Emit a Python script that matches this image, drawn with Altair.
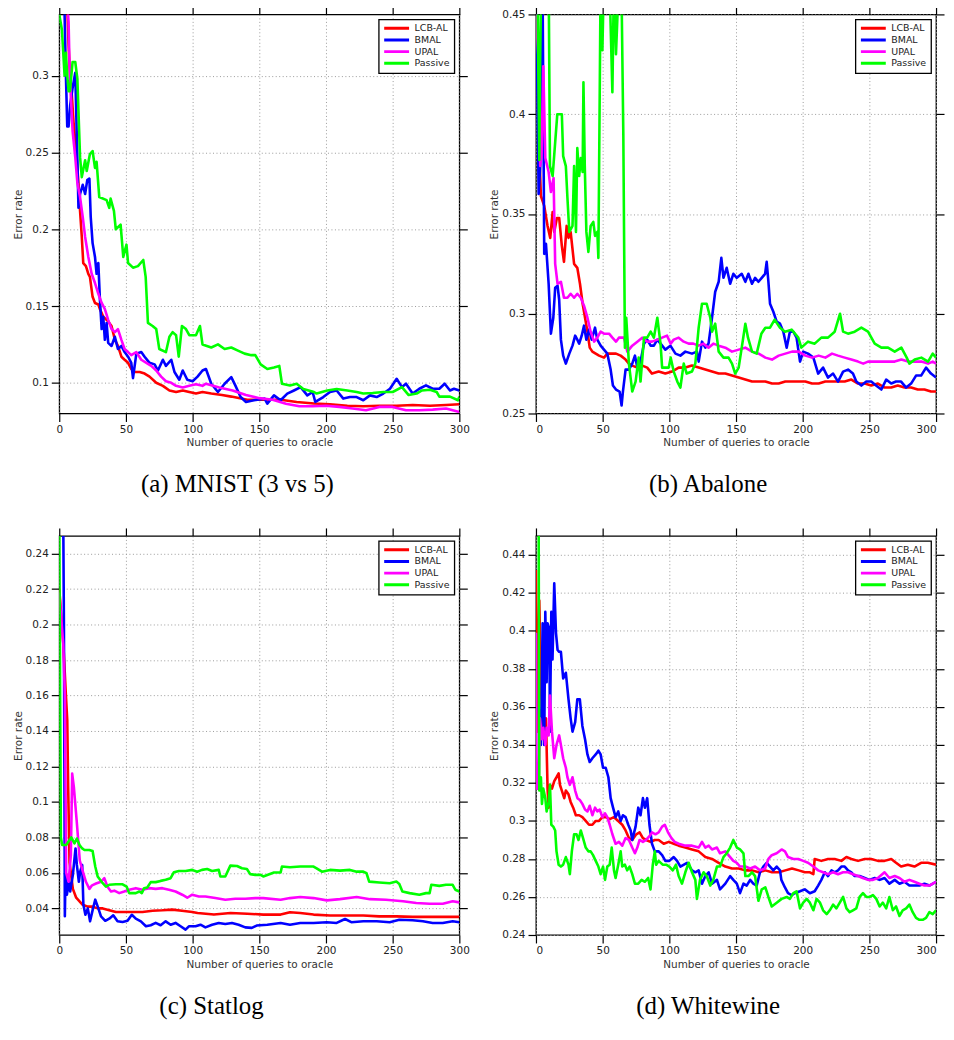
import altair as alt
import pandas as pd

SERIES = ["LCB-AL", "BMAL", "UPAL", "Passive"]
COLORS = ["#ff0000", "#0000ff", "#ff00ff", "#00ff00"]
X_TICKS = [0, 50, 100, 150, 200, 250, 300]
CAPTIONS = ["(a) MNIST (3 vs 5)", "(b) Abalone", "(c) Statlog", "(d) Whitewine"]
Y_TICKS_A = [0.1, 0.15, 0.2, 0.25, 0.3]
Y_TICKS_B = [0.25, 0.3, 0.35, 0.4, 0.45]
Y_TICKS_C = [0.04, 0.06, 0.08, 0.1, 0.12, 0.14, 0.16, 0.18, 0.2, 0.22, 0.24]
Y_TICKS_D = [0.24, 0.26, 0.28, 0.3, 0.32, 0.34, 0.36, 0.38, 0.4, 0.42, 0.44]

# ---------------- (a) MNIST (3 vs 5) ----------------
A_LCB_X = [0, 5, 6, 7, 8.2, 9.4, 10.7, 12.7, 14.4, 15.6,
           16.9, 18, 20, 21.8, 23, 25, 26.8, 29.3, 30.5, 33,
           36.7, 39.2, 41.7, 44, 46.6, 49, 51.6, 54, 56.6, 60.3,
           64, 67.7, 72.7, 77.7, 82.6, 87.6, 92.6, 97.5, 102.5, 107.4,
           114, 122, 129, 141, 154, 166, 178, 191, 203, 216,
           228, 240, 253, 265, 278, 290, 300]
A_LCB_Y = [0.45, 0.37, 0.345, 0.32, 0.298, 0.288, 0.27, 0.251, 0.23, 0.212,
           0.195, 0.178, 0.176, 0.171, 0.169, 0.156, 0.152, 0.151, 0.148, 0.143,
           0.14, 0.137, 0.128, 0.124, 0.117, 0.115, 0.113, 0.109, 0.107, 0.107,
           0.106, 0.104, 0.100, 0.098, 0.095, 0.094, 0.095, 0.094, 0.093, 0.094,
           0.093, 0.092, 0.091, 0.089, 0.089, 0.089, 0.0875, 0.0865, 0.086, 0.085,
           0.0847, 0.085, 0.085, 0.0855, 0.085, 0.0855, 0.086]
A_BMAL_X = [0, 4, 5, 6, 7, 8.2, 10, 12, 12.7, 13.6,
            14.4, 15.6, 17.6, 19.4, 21, 22.6, 23.6, 25, 26.8, 28,
            29.3, 30.5, 31.8, 33, 34.2, 35.5, 36.7, 39.2, 41.7, 44,
            46.6, 49, 51.6, 54, 55.3, 57.8, 61.5, 64, 67.7, 71.5,
            74, 77.7, 80, 84, 86.4, 90, 92.6, 96, 100, 103.7,
            107.4, 110, 114, 119, 124, 129, 132, 136, 140, 146,
            154, 156, 161, 166, 171, 176, 181, 186, 190, 192,
            198, 203, 208, 213, 218, 223, 228, 233, 238, 243,
            248, 253, 257, 260, 265, 270, 275, 280, 285, 289,
            293, 296, 300]
A_BMAL_Y = [0.36, 0.34, 0.30, 0.267, 0.267, 0.281, 0.292, 0.302, 0.277, 0.245,
            0.214, 0.223, 0.229, 0.223, 0.232, 0.233, 0.208, 0.191, 0.182, 0.171,
            0.178, 0.154, 0.135, 0.143, 0.128, 0.139, 0.126, 0.124, 0.13, 0.122,
            0.124, 0.12, 0.117, 0.113, 0.103, 0.119, 0.12, 0.117, 0.113, 0.112,
            0.108, 0.115, 0.111, 0.115, 0.107, 0.102, 0.108, 0.102, 0.101, 0.104,
            0.108, 0.109, 0.0994, 0.094, 0.0994, 0.1037, 0.0983, 0.0907, 0.0875, 0.0886,
            0.0897, 0.0864, 0.0918, 0.0886, 0.0929, 0.095, 0.0972, 0.0918, 0.094, 0.0875,
            0.0907, 0.094, 0.095, 0.0897, 0.0907, 0.0907, 0.0886, 0.0918, 0.0907, 0.093,
            0.0961, 0.1026, 0.0972, 0.0994, 0.093, 0.0961, 0.0983, 0.0961, 0.0961, 0.0994,
            0.095, 0.0961, 0.095]
A_UPAL_X = [0, 5, 7, 7.7, 8.7, 10, 12, 13.6, 15.6, 17.6,
            19.4, 21.8, 24.3, 26.8, 29.3, 31.8, 34.2, 36.7, 39.2, 41.7,
            44, 46.6, 49, 51.6, 54, 57.8, 61.5, 65.3, 69, 72.7,
            76.4, 80, 84, 87.6, 92.6, 97.5, 102.5, 107.4, 110, 120,
            130, 140, 150, 160, 170, 180, 190, 200, 210, 220,
            230, 240, 250, 260, 270, 280, 290, 300]
A_UPAL_Y = [0.45, 0.36, 0.335, 0.307, 0.286, 0.264, 0.247, 0.23, 0.221, 0.208,
            0.195, 0.182, 0.171, 0.165, 0.158, 0.152, 0.148, 0.141, 0.135, 0.133,
            0.135, 0.128, 0.122, 0.12, 0.118, 0.12, 0.115, 0.113, 0.111, 0.108,
            0.104, 0.101, 0.1, 0.098, 0.097, 0.098, 0.099, 0.098, 0.0994, 0.097,
            0.095, 0.092, 0.09, 0.089, 0.0864, 0.0847, 0.0847, 0.085, 0.0843, 0.0832,
            0.0821, 0.0843, 0.0843, 0.0821, 0.0821, 0.0825, 0.0832, 0.081]
A_PAS_X = [0, 2, 4, 5, 6, 7, 8, 10, 12, 13.6,
           14.4, 15.6, 16.9, 19.4, 20.6, 23, 25, 26.8, 28, 30,
           35.5, 37.5, 38.5, 41, 42.4, 46, 48, 50.4, 51.6, 55.3,
           59, 63, 64.8, 66.5, 70, 72.7, 75, 80, 82.6, 85,
           87.6, 89.6, 92, 95, 97.5, 102.5, 105.5, 107.4, 114, 119,
           124, 129, 134, 139, 144, 147, 151, 156, 161, 165,
           167, 173, 178, 183, 191, 193, 201, 208, 216, 223,
           228, 235, 243, 250, 257, 262, 268, 272, 278, 283,
           285, 293, 299, 300]
A_PAS_Y = [0.34, 0.33, 0.30, 0.315, 0.30, 0.29, 0.29, 0.309, 0.309, 0.298,
           0.277, 0.247, 0.234, 0.245, 0.238, 0.249, 0.251, 0.24, 0.244, 0.221,
           0.219, 0.214, 0.22, 0.212, 0.2, 0.203, 0.182, 0.19, 0.178, 0.175,
           0.176, 0.18, 0.169, 0.139, 0.137, 0.135, 0.122, 0.12, 0.13, 0.133,
           0.131, 0.117, 0.137, 0.135, 0.131, 0.131, 0.137, 0.125, 0.123, 0.125,
           0.122, 0.123, 0.121, 0.119, 0.118, 0.118, 0.112, 0.109, 0.11, 0.111,
           0.0994, 0.0983, 0.0994, 0.096, 0.094, 0.093, 0.095, 0.096, 0.095, 0.094,
           0.093, 0.0933, 0.094, 0.094, 0.0972, 0.092, 0.093, 0.095, 0.0955, 0.094,
           0.091, 0.091, 0.0886, 0.091]

# ---------------- (b) Abalone ----------------
B_LCB_X = [0, 2, 3.7, 6.2, 8.7, 10.7, 12.5, 13.7, 15.7, 17.4,
           19.4, 21, 23, 24.4, 26, 28.6, 31, 33, 35, 36.8,
           38.6, 40.3, 42.3, 44.8, 47.3, 51, 53.5, 57.3, 60, 63.5,
           67.2, 69.7, 72.2, 76, 79.7, 83.4, 87, 92, 97, 102,
           107, 112, 117, 122, 127, 132, 137, 142, 147, 152,
           157, 162, 167, 172, 177, 182, 187, 192, 197, 202,
           207, 212, 217, 222, 226.5, 231.5, 236.5, 241.5, 246.5, 251.4,
           256.4, 261.4, 266.4, 271.3, 276.3, 281.3, 286.3, 291.3, 296.2, 300]
B_LCB_Y = [0.45, 0.39, 0.359, 0.354, 0.344, 0.338, 0.351, 0.341, 0.348, 0.348,
           0.334, 0.326, 0.344, 0.338, 0.341, 0.325, 0.323, 0.315, 0.305, 0.298,
           0.291, 0.283, 0.281, 0.28, 0.279, 0.278, 0.28, 0.28, 0.28, 0.279,
           0.277, 0.275, 0.274, 0.273, 0.274, 0.273, 0.27, 0.271, 0.27, 0.271,
           0.273, 0.273, 0.274, 0.273, 0.272, 0.271, 0.27, 0.27, 0.269, 0.268,
           0.267, 0.266, 0.266, 0.266, 0.265, 0.265, 0.266, 0.266, 0.266, 0.266,
           0.265, 0.265, 0.266, 0.266, 0.266, 0.266, 0.267, 0.265, 0.265, 0.264,
           0.265, 0.263, 0.263, 0.264, 0.263, 0.263, 0.262, 0.262, 0.261, 0.261]
B_BMAL_X = [0, 2, 3.7, 5, 6.2, 7.5, 9.5, 11.2, 13, 14.4,
            16.2, 17.4, 18.7, 20.4, 22.4, 25, 27.4, 29.4, 31, 32.4,
            34.3, 36, 37.8, 39.8, 41.8, 44.3, 46, 48.5, 51, 53.5,
            56, 57.7, 60, 62.7, 64.2, 65.2, 67.2, 69.7, 72.2, 74.2,
            76, 78.4, 81, 83.4, 86, 88.4, 91, 93.4, 97, 100.8,
            104.6, 108.3, 112, 117, 120.7, 122, 124.5, 127, 129.4, 132,
            134.4, 137, 139, 140.6, 143, 145.6, 148, 150.6, 154.3, 157,
            159.3, 162, 164.3, 166.8, 169.3, 171.8, 173, 174.3, 175.5, 178,
            180.5, 183, 185.5, 188, 190.4, 193, 195.4, 198, 200.4, 204,
            208, 211.6, 215.3, 219, 222.8, 226.5, 230.3, 234, 237.7, 240.2,
            244, 247.7, 251.4, 255, 259, 262.6, 266.4, 270, 273.8, 277.6,
            281.3, 285, 288.8, 292.5, 296.2, 300]
B_BMAL_Y = [0.47, 0.36, 0.38, 0.46, 0.33, 0.335, 0.315, 0.29, 0.298, 0.313,
            0.314, 0.307, 0.287, 0.279, 0.275, 0.28, 0.284, 0.289, 0.287, 0.285,
            0.289, 0.294, 0.287, 0.292, 0.287, 0.293, 0.287, 0.284, 0.282, 0.28,
            0.272, 0.264, 0.262, 0.261, 0.254, 0.261, 0.272, 0.272, 0.275, 0.279,
            0.273, 0.276, 0.285, 0.287, 0.284, 0.284, 0.287, 0.285, 0.282, 0.284,
            0.28, 0.279, 0.281, 0.28, 0.281, 0.276, 0.286, 0.283, 0.285, 0.298,
            0.311, 0.316, 0.328, 0.318, 0.323, 0.315, 0.32, 0.318, 0.32, 0.316,
            0.32, 0.315, 0.318, 0.316, 0.318, 0.32, 0.326, 0.316, 0.305, 0.301,
            0.296, 0.295, 0.291, 0.283, 0.291, 0.291, 0.288, 0.276, 0.281, 0.28,
            0.278, 0.27, 0.273, 0.268, 0.27, 0.266, 0.271, 0.272, 0.27, 0.266,
            0.264, 0.266, 0.266, 0.264, 0.262, 0.267, 0.265, 0.266, 0.266, 0.263,
            0.265, 0.269, 0.269, 0.273, 0.27, 0.268]
B_UPAL_X = [0, 2.5, 3.2, 4.2, 5.5, 7, 9.5, 11.2, 13.2, 14.4,
            16.2, 18.7, 21, 23.6, 26, 28.6, 31, 33.6, 36, 38.6,
            41, 43.6, 46, 48.5, 51, 54.8, 57.3, 60, 62.2, 66,
            68.5, 72.2, 76, 79.7, 83.4, 87, 91, 94.6, 98.3, 101,
            103.3, 107, 110.8, 114.5, 118, 122, 125.7, 129.4, 133, 137,
            142, 147, 152, 157, 162, 167, 172, 177, 182, 187,
            192, 197, 202, 207, 212, 217, 222, 226.5, 231.5, 236.5,
            241.5, 245.4, 249, 254, 259, 264, 269, 274, 279, 284,
            289, 294, 297.5, 300]
B_UPAL_Y = [0.45, 0.421, 0.374, 0.379, 0.424, 0.378, 0.371, 0.361, 0.368, 0.325,
            0.315, 0.316, 0.308, 0.308, 0.31, 0.308, 0.31, 0.308, 0.304, 0.298,
            0.291, 0.286, 0.288, 0.291, 0.29, 0.29, 0.288, 0.286, 0.288, 0.288,
            0.281, 0.284, 0.286, 0.288, 0.286, 0.286, 0.287, 0.288, 0.289, 0.285,
            0.287, 0.288, 0.286, 0.285, 0.285, 0.284, 0.285, 0.283, 0.285, 0.284,
            0.283, 0.281, 0.282, 0.283, 0.281, 0.28, 0.278, 0.277, 0.279, 0.28,
            0.281, 0.281, 0.279, 0.278, 0.279, 0.278, 0.28, 0.279, 0.278, 0.277,
            0.276, 0.275, 0.276, 0.276, 0.276, 0.276, 0.276, 0.277, 0.276, 0.276,
            0.276, 0.275, 0.276, 0.275]
B_PAS_X = [0, 1, 2.5, 3, 4, 9.5, 10.5, 12.5, 16, 19.4,
           20.4, 22.4, 23.6, 25, 27.4, 28.6, 30, 31, 32.4, 33.6,
           35, 35.6, 36.6, 37.8, 39.3, 41, 43, 44.3, 46, 46.8,
           47.8, 48.5, 49.8, 51, 55, 57.3, 58.5, 60, 62.3, 64,
           65.5, 66.7, 67.7, 69.7, 72.2, 74.7, 77, 78.4, 81, 83.4,
           86, 88.4, 91, 93.4, 94.6, 97, 99.6, 101, 103.3, 106,
           108.3, 110.8, 113, 117, 119.5, 122, 124.5, 128, 130.7, 132,
           134.4, 137, 140.6, 144.4, 147, 149.4, 152, 154.3, 157, 159,
           162, 165.5, 169, 172, 175.5, 179, 183, 186.7, 191.7, 196.7,
           199, 204, 209, 214, 219, 224, 228, 230.3, 234, 239,
           244, 249, 254, 259, 264, 269, 274, 278, 280, 284,
           289, 294, 297.5, 300]
B_PAS_Y = [0.47, 0.47, 0.377, 0.42, 0.47, 0.47, 0.374, 0.369, 0.4, 0.4,
           0.379, 0.374, 0.358, 0.341, 0.344, 0.374, 0.341, 0.383, 0.369, 0.378,
           0.371, 0.416, 0.374, 0.341, 0.331, 0.344, 0.346, 0.339, 0.341, 0.328,
           0.41, 0.47, 0.432, 0.47, 0.47, 0.411, 0.47, 0.43, 0.47, 0.47,
           0.39, 0.283, 0.298, 0.275, 0.261, 0.266, 0.278, 0.266, 0.288, 0.288,
           0.291, 0.288, 0.298, 0.285, 0.273, 0.273, 0.273, 0.278, 0.271, 0.266,
           0.263, 0.275, 0.27, 0.271, 0.275, 0.293, 0.305, 0.305, 0.298, 0.291,
           0.295, 0.281, 0.278, 0.278, 0.275, 0.27, 0.273, 0.283, 0.295, 0.288,
           0.281, 0.28, 0.29, 0.293, 0.293, 0.297, 0.293, 0.291, 0.292, 0.288,
           0.283, 0.286, 0.285, 0.288, 0.288, 0.291, 0.3, 0.291, 0.29, 0.291,
           0.293, 0.291, 0.285, 0.283, 0.283, 0.281, 0.283, 0.278, 0.275, 0.277,
           0.278, 0.276, 0.28, 0.278]

# ---------------- (c) Statlog ----------------
C_LCB_X = [0, 3, 5, 6, 6.7, 7.7, 10.2, 12.7, 15.2, 17.6,
           21.4, 25, 28.8, 32.6, 37.5, 42.5, 47.5, 52.4, 57.4, 62.4,
           70, 77.3, 84.8, 92, 99.7, 103.7, 116, 128.5, 141, 153,
           166, 173, 180.7, 190.7, 203, 215.5, 228, 240, 252.8, 265,
           277.7, 290, 300]
C_LCB_Y = [0.22, 0.19, 0.16, 0.146, 0.108, 0.066, 0.051, 0.046, 0.044, 0.042,
           0.041, 0.041, 0.04, 0.04, 0.039, 0.038, 0.038, 0.038, 0.038, 0.038,
           0.0387, 0.0389, 0.0393, 0.0387, 0.038, 0.0374, 0.0365, 0.0374, 0.037, 0.0365,
           0.0365, 0.0378, 0.0374, 0.0365, 0.036, 0.036, 0.036, 0.0355, 0.0355, 0.0352,
           0.0352, 0.0352, 0.0352]
C_BMAL_X = [0, 1, 3, 3.5, 4.2, 4.7, 5.7, 7.2, 8.2, 10.2,
            12.2, 13.2, 14.7, 15.7, 17.2, 18.1, 19.6, 21.4, 23.1, 25.1,
            27, 28.8, 31.3, 34.5, 37.5, 40.5, 43.7, 47.5, 51.2, 54.4,
            57.4, 61.2, 65, 68.6, 72.3, 76, 79.8, 83.5, 87.2, 91,
            94.7, 97.2, 102.2, 105.9, 109.6, 114.6, 119.6, 124.5, 129.5, 134.5,
            139.5, 144.4, 148, 156, 166, 173, 180.7, 190.7, 200.6, 208,
            214.3, 219, 228, 238, 247.8, 255, 265, 272.7, 280, 287.6,
            295, 300]
C_BMAL_Y = [0.26, 0.26, 0.26, 0.2, 0.0356, 0.0607, 0.0477, 0.055, 0.0495, 0.0589,
            0.0738, 0.0645, 0.055, 0.0607, 0.0645, 0.042, 0.0364, 0.04, 0.0327, 0.0393,
            0.0449, 0.0411, 0.0355, 0.033, 0.0342, 0.0361, 0.0327, 0.0323, 0.033, 0.0364,
            0.0342, 0.0327, 0.0299, 0.0305, 0.0318, 0.0305, 0.0327, 0.0308, 0.0318, 0.0299,
            0.028, 0.0299, 0.0299, 0.0308, 0.0293, 0.0308, 0.0318, 0.0312, 0.0318, 0.0308,
            0.0293, 0.029, 0.0303, 0.0308, 0.0318, 0.0308, 0.0318, 0.0318, 0.0322, 0.0318,
            0.034, 0.0322, 0.0327, 0.0327, 0.0322, 0.0336, 0.0333, 0.0327, 0.0318, 0.0318,
            0.0327, 0.0322]
C_UPAL_X = [0, 3, 4.2, 5.2, 7, 8.7, 9.7, 11, 13, 15.4,
            17.6, 20, 22.6, 24.6, 27.6, 31.3, 33.8, 36.3, 38.8, 41.3,
            45, 48.7, 52.4, 57.4, 62.4, 67.4, 72.3, 77.3, 82.3, 87.2,
            92.2, 96, 99.7, 104.7, 109.6, 117, 124.5, 132, 139.5, 147,
            153, 166, 173, 180.7, 190.7, 200.6, 210.5, 223, 233, 245,
            257.8, 267.7, 277.7, 287.6, 295, 300]
C_UPAL_Y = [0.218, 0.189, 0.16, 0.06, 0.055, 0.07, 0.116, 0.108, 0.09, 0.067,
            0.061, 0.055, 0.051, 0.053, 0.054, 0.055, 0.057, 0.052, 0.0495, 0.05,
            0.0486, 0.0495, 0.0505, 0.0514, 0.0505, 0.0514, 0.051, 0.0514, 0.0505, 0.0495,
            0.0477, 0.046, 0.0477, 0.0467, 0.0467, 0.0458, 0.0449, 0.0454, 0.0454, 0.0458,
            0.0458, 0.0449, 0.0458, 0.0464, 0.0458, 0.0445, 0.0452, 0.0464, 0.0452, 0.0449,
            0.044, 0.043, 0.0426, 0.0426, 0.044, 0.0434]
C_PAS_X = [0, 1.2, 2.2, 5.2, 9, 11.4, 13.2, 15.2, 17.2, 18.9,
           22.6, 25, 27, 28.8, 32.6, 35, 37.5, 42.5, 47.5, 50.5,
           52.4, 57.4, 60, 61.9, 63.6, 66, 68.6, 72.3, 76, 79.8,
           83.5, 86, 89.7, 94.7, 99.7, 103.4, 107, 110.9, 114.6, 119.6,
           120.8, 124.5, 128.3, 133.3, 137, 140.7, 143.2, 147, 151, 153,
           161, 166, 167, 173, 180.7, 190.7, 193, 197, 203, 210.5,
           218, 223, 228, 230.4, 232.4, 240, 247.8, 252.8, 255, 257.3,
           262.7, 270, 275, 277.7, 279, 285, 290, 295, 297, 300]
C_PAS_Y = [0.26, 0.08, 0.0757, 0.0757, 0.08, 0.0766, 0.0794, 0.0757, 0.0738, 0.0729,
           0.0729, 0.0723, 0.0636, 0.058, 0.0542, 0.0523, 0.0533, 0.0536, 0.0536, 0.0523,
           0.0486, 0.0486, 0.0495, 0.0486, 0.0514, 0.0518, 0.0548, 0.0548, 0.0555, 0.0561,
           0.057, 0.0604, 0.0611, 0.0611, 0.0617, 0.0607, 0.0617, 0.0622, 0.0611, 0.0617,
           0.058, 0.058, 0.0641, 0.0639, 0.0626, 0.0622, 0.0593, 0.0589, 0.0589, 0.058,
           0.0602, 0.0602, 0.0636, 0.0632, 0.0636, 0.0636, 0.0626, 0.0607, 0.0617, 0.0613,
           0.0617, 0.0607, 0.0607, 0.0598, 0.0551, 0.0546, 0.0542, 0.0551, 0.0538, 0.0495,
           0.0486, 0.0477, 0.0486, 0.0486, 0.0533, 0.0527, 0.0533, 0.0533, 0.0505, 0.0495]

# ---------------- (d) Whitewine ----------------
D_LCB_X = [0, 1.2, 2.5, 3.7, 5, 6.2, 7.5, 8.7, 9.5, 10.5,
           12, 13.7, 15.4, 17, 18, 19.4, 21.2, 22.4, 24.4, 26,
           27.9, 29.9, 32.4, 34.8, 37.3, 39.8, 42.3, 44.8, 47.3, 49.8,
           52.3, 55.3, 58.5, 61.7, 64.7, 67.2, 69.7, 72.2, 75.2, 77.7,
           80.2, 82.6, 85.9, 89.1, 92, 95.8, 99.6, 103.3, 107, 112,
           117, 122, 127, 132, 137, 142, 147, 152, 157, 162,
           167, 172, 177, 182, 187, 192, 197, 201.6, 205.4, 208,
           209, 214, 219, 224, 229, 232.8, 236.5, 241.5, 246.5, 251.4,
           256.4, 261.4, 266.4, 270, 273.8, 278.8, 283.8, 288.8, 293.8, 300]
D_LCB_Y = [0.432, 0.347, 0.416, 0.37, 0.354, 0.347, 0.354, 0.317, 0.307, 0.319,
           0.317, 0.321, 0.323, 0.325, 0.319, 0.316, 0.312, 0.316, 0.314, 0.31,
           0.307, 0.303, 0.303, 0.302, 0.3, 0.298, 0.298, 0.3, 0.3, 0.302,
           0.302, 0.301, 0.302, 0.3, 0.298, 0.295, 0.291, 0.29, 0.293, 0.294,
           0.291, 0.29, 0.289, 0.29, 0.29, 0.288, 0.289, 0.288, 0.287, 0.286,
           0.285, 0.284, 0.281, 0.28, 0.278, 0.276, 0.275, 0.275, 0.274, 0.274,
           0.273, 0.274, 0.273, 0.273, 0.274, 0.275, 0.274, 0.273, 0.273, 0.272,
           0.28, 0.279, 0.28, 0.28, 0.279, 0.281, 0.28, 0.279, 0.28, 0.28,
           0.279, 0.279, 0.28, 0.278, 0.276, 0.277, 0.276, 0.278, 0.278, 0.277]
D_BMAL_X = [2, 3.7, 5, 6.2, 7, 8, 8.7, 10, 10.5, 11.5,
            12.4, 13.7, 15, 16.2, 17.4, 18.7, 20.4, 22.4, 24.4, 26,
            27.4, 29.4, 31, 32.9, 34.8, 36.8, 38.6, 40.3, 42.3, 44.8,
            46.8, 48.5, 50.3, 52.3, 54.3, 56, 57.8, 59.7, 61.7, 63.5,
            65.2, 67.2, 69.2, 71, 72.2, 74.7, 76.7, 78.4, 80.2, 81.7,
            83.4, 85.1, 87, 89.1, 92, 94.6, 97, 100, 103.3, 105.8,
            108.3, 113.3, 117, 119.5, 122, 124.5, 127, 129.5, 132, 135.7,
            138, 142, 145.6, 148, 150.6, 153, 155.6, 158, 160.6, 163,
            165.5, 168, 170.5, 173, 175.5, 178, 180.5, 183, 184, 186.7,
            189, 191.7, 194, 198, 201.6, 205.4, 209, 211.6, 214, 216.6,
            219, 221.6, 224, 226.5, 229, 231.5, 234, 236.5, 239, 242.7,
            246.5, 250, 254, 257.7, 261.4, 265, 269, 272.6, 276.3, 280,
            283.8, 287.5, 291.3, 295, 300]
D_BMAL_Y = [0.36, 0.34, 0.404, 0.34, 0.41, 0.373, 0.404, 0.401, 0.347, 0.41,
            0.385, 0.425, 0.399, 0.39, 0.389, 0.389, 0.375, 0.378, 0.364, 0.354,
            0.347, 0.352, 0.364, 0.364, 0.35, 0.343, 0.335, 0.331, 0.333, 0.335,
            0.337, 0.335, 0.328, 0.328, 0.323, 0.312, 0.307, 0.302, 0.305, 0.3,
            0.303, 0.302, 0.298, 0.295, 0.29, 0.297, 0.307, 0.303, 0.312, 0.307,
            0.312, 0.298, 0.288, 0.284, 0.284, 0.282, 0.279, 0.279, 0.281, 0.279,
            0.276, 0.278, 0.274, 0.273, 0.274, 0.267, 0.271, 0.273, 0.267, 0.269,
            0.264, 0.267, 0.271, 0.269, 0.267, 0.262, 0.267, 0.266, 0.269, 0.267,
            0.266, 0.273, 0.276, 0.278, 0.276, 0.274, 0.276, 0.274, 0.269, 0.265,
            0.262, 0.261, 0.262, 0.263, 0.264, 0.262, 0.263, 0.266, 0.269, 0.273,
            0.271, 0.274, 0.273, 0.274, 0.276, 0.276, 0.274, 0.273, 0.271, 0.271,
            0.27, 0.269, 0.27, 0.269, 0.27, 0.267, 0.269, 0.267, 0.268, 0.266,
            0.266, 0.266, 0.267, 0.266, 0.268]
D_UPAL_X = [0, 0.5, 2, 3, 4.5, 5.5, 7, 8, 9.5, 10.5,
            12, 13.7, 15.4, 17.4, 18.7, 20.4, 22.4, 23.6, 25.4, 27.4,
            29.4, 31.1, 32.9, 34.8, 36.8, 38.6, 40.3, 42.3, 44.3, 46,
            47.8, 49.8, 51.8, 53.5, 55.3, 57.3, 59.7, 62.2, 64.7, 67.2,
            69.7, 72.2, 74.2, 76, 77.7, 80.2, 82.6, 85.1, 87, 89.6,
            92, 94.6, 96.6, 99, 101.6, 104, 107, 112, 117, 122,
            124.5, 127, 129.5, 132, 135.7, 138, 142, 145.6, 148, 150.6,
            153, 157, 160.6, 164.3, 168, 171.8, 174.3, 176.8, 180.5, 184.2,
            186.7, 189, 193, 196.7, 200.4, 204, 208, 211.6, 215.3, 219,
            222.8, 226.5, 230.3, 234, 237.7, 241.5, 245, 249, 252.7, 256.4,
            261.4, 265, 269, 272.6, 276.3, 280, 283.8, 287.5, 291.3, 295,
            300]
D_UPAL_Y = [0.399, 0.317, 0.317, 0.354, 0.343, 0.349, 0.34, 0.349, 0.345, 0.366,
            0.347, 0.333, 0.34, 0.345, 0.34, 0.333, 0.328, 0.323, 0.319, 0.323,
            0.316, 0.312, 0.311, 0.309, 0.306, 0.305, 0.308, 0.303, 0.307, 0.305,
            0.306, 0.302, 0.304, 0.302, 0.298, 0.293, 0.288, 0.289, 0.287, 0.291,
            0.29, 0.286, 0.283, 0.286, 0.29, 0.289, 0.29, 0.292, 0.294, 0.293,
            0.294, 0.297, 0.298, 0.294, 0.291, 0.289, 0.288, 0.287, 0.287, 0.286,
            0.289, 0.286, 0.287, 0.285, 0.286, 0.283, 0.284, 0.281, 0.279, 0.278,
            0.276, 0.276, 0.275, 0.276, 0.274, 0.275, 0.28, 0.282, 0.283, 0.285,
            0.284, 0.281, 0.28, 0.28, 0.279, 0.278, 0.276, 0.274, 0.273, 0.272,
            0.273, 0.272, 0.273, 0.273, 0.272, 0.271, 0.27, 0.269, 0.269, 0.27,
            0.273, 0.27, 0.271, 0.27, 0.268, 0.269, 0.268, 0.267, 0.266, 0.266,
            0.268]
D_PAS_X = [0.5, 2, 2.5, 3.7, 4.5, 5.5, 7, 8, 9.5, 10.5,
           11.5, 13, 14.4, 15.4, 17, 18.7, 20.4, 22.4, 24.4, 25.4,
           26.9, 28.6, 30.4, 31.9, 33.6, 35.3, 37.3, 39.3, 41, 42.8,
           44.8, 46.8, 48.5, 50.3, 51.8, 53.5, 55.3, 56.8, 58.5, 59.7,
           61.7, 63.5, 64.7, 66.7, 68.4, 70.2, 72.2, 74.2, 76.7, 79.2,
           81.7, 84.1, 85.9, 87.6, 89.1, 90.1, 92, 95, 97.6, 100,
           102.6, 105, 107, 109.5, 112, 114.5, 117, 119.5, 120.7, 123,
           125.7, 128, 130.7, 133, 135.7, 138, 140.6, 143, 145.6, 148,
           150.6, 153, 155.6, 157, 159.3, 162, 164.3, 166.8, 169.3, 172,
           174.3, 176.8, 180.5, 184.2, 188, 190.4, 193, 195.4, 198, 200.4,
           203, 205.4, 208, 210.4, 213, 215.3, 218, 220.3, 222.8, 225.3,
           227.8, 230.3, 232.8, 235.2, 237.7, 240.2, 242.7, 245.2, 247.7, 250.2,
           252.7, 255.2, 257.7, 260.1, 262.6, 265, 267.6, 270, 272.6, 275,
           277.6, 280, 282.5, 285, 287.5, 290, 292.5, 295, 297.5, 300]
D_PAS_Y = [0.46, 0.46, 0.316, 0.323, 0.309, 0.317, 0.312, 0.305, 0.31, 0.319,
           0.298, 0.297, 0.295, 0.284, 0.277, 0.276, 0.277, 0.281, 0.277, 0.272,
           0.284, 0.293, 0.293, 0.29, 0.295, 0.291, 0.286, 0.284, 0.284, 0.282,
           0.279, 0.276, 0.272, 0.276, 0.269, 0.276, 0.277, 0.286, 0.274, 0.27,
           0.277, 0.284, 0.276, 0.277, 0.274, 0.276, 0.272, 0.267, 0.267, 0.269,
           0.268, 0.27, 0.264, 0.277, 0.284, 0.277, 0.279, 0.277, 0.277, 0.276,
           0.274, 0.277, 0.271, 0.267, 0.273, 0.278, 0.273, 0.269, 0.259, 0.269,
           0.273, 0.271, 0.266, 0.269, 0.276, 0.276, 0.281, 0.283, 0.286, 0.29,
           0.286, 0.285, 0.283, 0.271, 0.271, 0.273, 0.271, 0.258, 0.264, 0.265,
           0.26, 0.255, 0.257, 0.259, 0.26, 0.259, 0.262, 0.263, 0.254, 0.257,
           0.259, 0.257, 0.253, 0.259, 0.257, 0.253, 0.251, 0.253, 0.256, 0.254,
           0.257, 0.26, 0.254, 0.252, 0.253, 0.254, 0.26, 0.262, 0.26, 0.26,
           0.261, 0.259, 0.255, 0.257, 0.254, 0.26, 0.253, 0.255, 0.25, 0.253,
           0.254, 0.256, 0.252, 0.249, 0.248, 0.248, 0.249, 0.252, 0.251, 0.253]

FONT = "DejaVu Sans"
CAP_FONT = "Liberation Serif"
W, H = 402, 401


def build(tag, pairs):
    rows = []
    for name, (xs, ys) in zip(SERIES, pairs):
        if len(xs) != len(ys):
            raise ValueError(f"{tag} {name}: {len(xs)} x vs {len(ys)} y")
        rows += [{"x": a, "y": b, "series": name} for a, b in zip(xs, ys)]
    return pd.DataFrame(rows)


def panel(df, ydom, yticks, caption, cap_dx, flush_x):
    xs = alt.Scale(domain=[0, 300], nice=False, zero=False)
    ys = alt.Scale(domain=ydom, nice=False, zero=False)
    lines = alt.Chart(df).mark_line(strokeWidth=2.6, clip=True, strokeJoin="round").encode(
        x=alt.X("x:Q", scale=xs, axis=alt.Axis(
            orient="bottom", values=X_TICKS, title="Number of queries to oracle",
            grid=True, titlePadding=3, labelFlush=flush_x)),
        y=alt.Y("y:Q", scale=ys, axis=alt.Axis(
            orient="left", values=yticks, format="~g", title="Error rate",
            grid=True, titlePadding=2, labelFlush=False)),
        color=alt.Color("series:N", sort=SERIES,
                        scale=alt.Scale(domain=SERIES, range=COLORS),
                        legend=alt.Legend(
                            title=None, orient="top-right", offset=5, padding=4,
                            fillColor="white", strokeColor="black",
                            symbolType="stroke", symbolSize=625, symbolStrokeWidth=3,
                            labelFont=FONT, labelFontSize=9.5, labelColor="#222",
                            labelOffset=4, rowPadding=1.7, clipHeight=10,
                            cornerRadius=0)),
    )
    ghost = alt.Chart(df).mark_point(opacity=0, clip=True).encode(
        x=alt.X("x:Q", scale=xs, axis=alt.Axis(
            orient="top", values=X_TICKS, labels=False, title=None, grid=False)),
        y=alt.Y("y:Q", scale=ys, axis=alt.Axis(
            orient="right", values=yticks, labels=False, title=None, grid=False)),
    )
    return alt.layer(lines, ghost).resolve_axis(x="independent", y="independent").properties(
        width=W, height=H,
        title=alt.TitleParams(
            text=caption, orient="bottom", anchor="middle", frame="group",
            dx=cap_dx, offset=24, baseline="top",
            font=CAP_FONT, fontSize=25, fontWeight="normal", color="black"),
    )


df_a = build("a", [(A_LCB_X, A_LCB_Y), (A_BMAL_X, A_BMAL_Y), (A_UPAL_X, A_UPAL_Y), (A_PAS_X, A_PAS_Y)])
df_b = build("b", [(B_LCB_X, B_LCB_Y), (B_BMAL_X, B_BMAL_Y), (B_UPAL_X, B_UPAL_Y), (B_PAS_X, B_PAS_Y)])
df_c = build("c", [(C_LCB_X, C_LCB_Y), (C_BMAL_X, C_BMAL_Y), (C_UPAL_X, C_UPAL_Y), (C_PAS_X, C_PAS_Y)])
df_d = build("d", [(D_LCB_X, D_LCB_Y), (D_BMAL_X, D_BMAL_Y), (D_UPAL_X, D_UPAL_Y), (D_PAS_X, D_PAS_Y)])

pa = panel(df_a, [0.08, 0.34], Y_TICKS_A, CAPTIONS[0], -22, False)
pb = panel(df_b, [0.25, 0.45], Y_TICKS_B, CAPTIONS[1], -28, True)
pc = panel(df_c, [0.025, 0.25], Y_TICKS_C, CAPTIONS[2], -48, False)
pd_ = panel(df_d, [0.24, 0.45], Y_TICKS_D, CAPTIONS[3], -28, True)

chart = alt.concat(
    pa, pb, pc, pd_, columns=2, spacing={"row": 123, "column": 77}, bounds="flush"
).resolve_scale(color="independent").properties(
    padding={"left": 3.5, "top": -6, "right": 0, "bottom": 0}
).configure_view(
    stroke="black", strokeWidth=1.3
).configure_axis(
    labelFont=FONT, labelFontSize=10.5, labelColor="#222", labelPadding=3,
    titleFont=FONT, titleFontSize=10.5, titleFontWeight="normal", titleColor="#333",
    tickColor="black", tickWidth=1.2, tickSize=8, domain=False,
    gridColor="#9a9a9a", gridDash=[1, 2.5], gridWidth=1,
).configure_legend(
    strokeWidth=1.3
)

chart.save("out.html", embed_options={"renderer": "svg", "actions": False})
